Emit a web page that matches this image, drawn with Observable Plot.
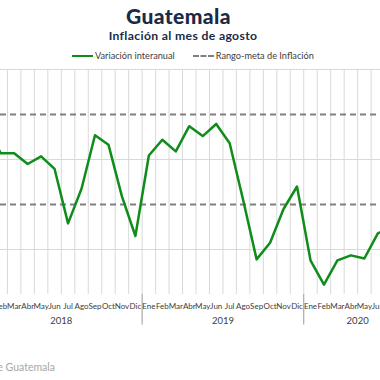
<!DOCTYPE html>
<html>
<head>
<meta charset="utf-8">
<script src="https://cdn.jsdelivr.net/npm/d3@7"></script>
<script src="https://cdn.jsdelivr.net/npm/@observablehq/plot@0.6"></script>
<style>
  html, body { margin: 0; padding: 0; background: #fff; }
  body { width: 380px; height: 380px; overflow: hidden; position: relative; font-family: Lato, "Open Sans", sans-serif; }
  #title { position: absolute; left: 0; width: 357px; top: 3px; text-align: center; font-weight: 900; font-size: 21px; color: #1b2a47; letter-spacing: 0.4px; }
  #subtitle { position: absolute; left: 0; width: 366px; top: 28px; text-align: center; font-weight: 700; font-size: 12.2px; color: #1b2a47; letter-spacing: 0.35px; }
  #legend { position: absolute; top: 50px; left: 72px; font-size: 9.2px; color: #404040; display: flex; align-items: center; white-space: nowrap; }
  .sw { display: inline-block; width: 21px; height: 0; margin-right: 2px; }
  #chart { position: absolute; left: -20px; top: 64px; width: 431px; }
  #chart svg { max-width: none; }
  #caption { position: absolute; right: 325px; top: 361px; font-size: 10.5px; color: #a6a6a6; white-space: nowrap; }
</style>
</head>
<body>
<div id="title">Guatemala</div>
<div id="subtitle">Inflación al mes de agosto</div>
<div id="legend">
  <span class="sw" style="border-top: 2.5px solid #0f8c1a;"></span><span>Variación interanual</span>
  <span class="sw" style="border-top: 2px dashed #808080; margin-left: 18px;"></span><span>Rango-meta de Inflación</span>
</div>
<div id="chart"></div>
<div id="caption">Fuente: Banco de Guatemala</div>
<script>
const months = ["Ene","Feb","Mar","Abr","May","Jun","Jul","Ago","Sep","Oct","Nov","Dic"];
const years = [2018, 2019, 2020];
const values2018 = [4.71, 4.14, 4.14, 3.90, 4.07, 3.79, 2.58, 3.35, 4.54, 4.33, 3.18, 2.30];
const values2019 = [4.09, 4.44, 4.18, 4.74, 4.52, 4.79, 4.36, 3.10, 1.78, 2.15, 2.90, 3.40];
const values2020 = [1.76, 1.22, 1.76, 1.87, 1.80, 2.36, 2.50, 2.90];
const targetRange = [3, 5];
const yGrid = [2, 4, 6];
const yDomain = [1, 6];

const series = [values2018, values2019, values2020];
const data = [];
series.forEach((vals, yi) => vals.forEach((v, m) => data.push({i: data.length, label: months[m], year: years[yi], value: v})));
const n = data.length;
const yearGroups = years.map(y => {
  const rows = data.filter(d => d.year === y);
  return {year: y, start: rows[0].i, end: rows[rows.length - 1].i + 1};
});

const chart = Plot.plot({
  width: 431, height: 270,
  marginLeft: 0, marginRight: 0, marginTop: 5, marginBottom: 40,
  x: {domain: [0, n], axis: null},
  y: {domain: yDomain, axis: null},
  style: {fontFamily: "Lato, 'Open Sans', sans-serif", overflow: "visible"},
  marks: [
    Plot.ruleX(d3.range(0, n + 1), {y1: yDomain[0], y2: yDomain[1], stroke: "#d9d9d9", strokeWidth: 1}),
    Plot.ruleY(yGrid, {stroke: "#d9d9d9", strokeWidth: 1.2}),
    Plot.ruleX(yearGroups.slice(1), {x: "start", y1: yDomain[0], y2: 0.32, stroke: "#9a9a9a", strokeWidth: 1}),
    Plot.ruleY(targetRange, {stroke: "#808080", strokeWidth: 2, strokeDasharray: "6,4"}),
    Plot.line(data, {x: d => d.i + 0.5, y: "value", stroke: "#0f8c1a", strokeWidth: 2.5, curve: "linear"}),
    Plot.text(data, {x: d => d.i + 0.5, y: yDomain[0], dy: 12, text: "label", fontSize: 8, fill: "#404040", lineAnchor: "middle"}),
    Plot.text(yearGroups, {x: d => (d.start + d.end) / 2, y: yDomain[0], dy: 26.5, text: d => String(d.year), fontSize: 9.5, fill: "#404040", lineAnchor: "middle"})
  ]
});
document.getElementById("chart").appendChild(chart);
</script>
</body>
</html>
